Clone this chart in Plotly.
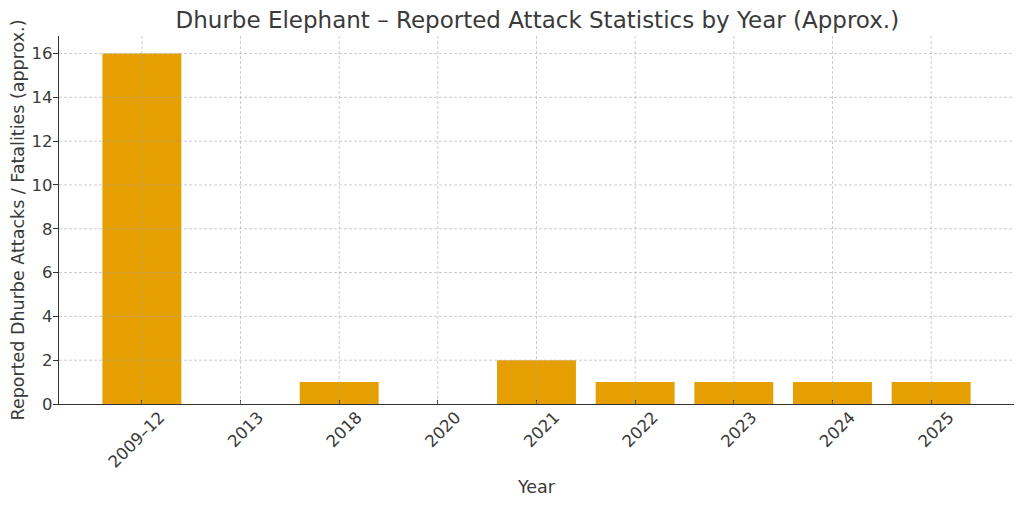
import plotly.graph_objects as go

# Reported attacks / fatalities by year (approx.)
years = ["2009–12", "2013", "2018", "2020", "2021", "2022", "2023", "2024", "2025"]
attacks = [16, 0, 1, 0, 2, 1, 1, 1, 1]
y_ticks = [0, 2, 4, 6, 8, 10, 12, 14, 16]

font_family = "DejaVu Sans"
text_color = "#3a3a3a"
grid_line = dict(color="rgba(165,165,165,0.7)", width=0.8, dash="3px,2px")

fig = go.Figure(go.Bar(
    x=years,
    y=attacks,
    marker=dict(color="#E69F00", line=dict(width=0)),
    width=0.8,
))

# grid drawn above the bars, as in the original (category axis -> shapes use serial index)
for t in y_ticks[1:]:
    fig.add_shape(type="line", xref="paper", yref="y", x0=0, x1=1, y0=t, y1=t,
                  line=grid_line, layer="above")
for i, _ in enumerate(years):
    fig.add_shape(type="line", xref="x", yref="paper", x0=i, x1=i, y0=0, y1=1,
                  line=grid_line, layer="above")

# the page adds an 8px body margin, so the figure is sized to fit inside it
fig.update_layout(
    width=1016,
    height=498,
    margin=dict(l=51, r=10, t=28, b=102, autoexpand=False),
    paper_bgcolor="white",
    plot_bgcolor="white",
    font=dict(family=font_family, size=16, color=text_color),
    title=dict(
        text="Dhurbe Elephant – Reported Attack Statistics by Year (Approx.)",
        font=dict(size=23, color=text_color),
        x=0.521, xanchor="center",
        y=0.976, yanchor="middle",
        automargin=False,
    ),
    showlegend=False,
)

fig.update_xaxes(
    type="category",
    range=[-0.84, 8.84],
    automargin=False,
    tickangle=-45,
    ticklabelshift=18,
    ticklabelstandoff=-4,
    ticks="inside",
    ticklen=4,
    tickcolor="#333333",
    showline=True,
    linecolor="#333333",
    linewidth=1.2,
    showgrid=False,
    tickfont=dict(size=16.5, color=text_color),
    title=dict(text="Year", font=dict(size=17.5, color=text_color), standoff=10),
)

fig.update_yaxes(
    range=[0, 16.8],
    automargin=False,
    tickvals=y_ticks,
    ticks="outside",
    ticklen=5,
    tickcolor="#333333",
    showline=True,
    linecolor="#333333",
    linewidth=1.2,
    showgrid=False,
    zeroline=False,
    ticklabelstandoff=-3,
    tickfont=dict(size=16.5, color=text_color),
    title=dict(text="Reported Dhurbe Attacks / Fatalities (approx.)",
               font=dict(size=17.5, color=text_color), standoff=2),
)

fig.write_html("out.html")
